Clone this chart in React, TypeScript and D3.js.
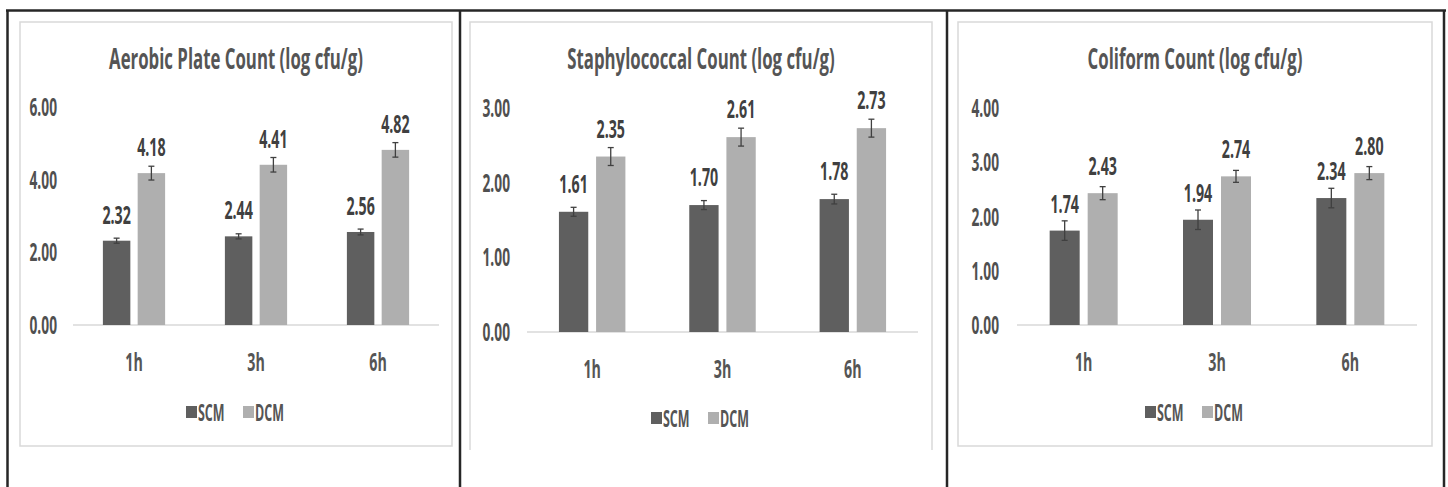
import React from "react";
import * as d3 from "d3";

const categories = ["1h", "3h", "6h"];
const seriesNames = ["SCM", "DCM"];

const titles = [
  "Aerobic Plate Count (log cfu/g)",
  "Staphylococcal Count (log cfu/g)",
  "Coliform Count (log cfu/g)",
];

const apcSCM = [2.32, 2.44, 2.56];
const apcDCM = [4.18, 4.41, 4.82];
const apcErrSCM = [0.07, 0.07, 0.08];
const apcErrDCM = [0.19, 0.2, 0.2];
const apcTicks = [0, 2, 4, 6];

const staSCM = [1.61, 1.7, 1.78];
const staDCM = [2.35, 2.61, 2.73];
const staErrSCM = [0.06, 0.06, 0.065];
const staErrDCM = [0.12, 0.12, 0.12];
const staTicks = [0, 1, 2, 3];

const colSCM = [1.74, 1.94, 2.34];
const colDCM = [2.43, 2.74, 2.8];
const colErrSCM = [0.18, 0.18, 0.18];
const colErrDCM = [0.12, 0.11, 0.12];
const colTicks = [0, 1, 2, 3, 4];

const COLORS = ["#5f5f5f", "#afafaf"];
const FONT = "'Open Sans', 'Liberation Sans', sans-serif";

type PanelCfg = {
  title: string;
  scm: number[];
  dcm: number[];
  errScm: number[];
  errDcm: number[];
  ticks: number[];
  box: [number, number, number, number];
  boxBottom: boolean;
  xr: [number, number];
  y0: number;
  yTop: number;
  labelRight: number;
  legendDy: number;
  labelOff: number;
};

const panels: PanelCfg[] = [
  {
    title: titles[0], scm: apcSCM, dcm: apcDCM, errScm: apcErrSCM, errDcm: apcErrDCM, ticks: apcTicks,
    box: [20, 22, 452, 446], boxBottom: true, xr: [73, 439], y0: 325, yTop: 107, labelRight: 57, legendDy: 87, labelOff: 17,
  },
  {
    title: titles[1], scm: staSCM, dcm: staDCM, errScm: staErrSCM, errDcm: staErrDCM, ticks: staTicks,
    box: [470, 22, 932, 450], boxBottom: false, xr: [527, 918], y0: 332, yTop: 108, labelRight: 510, legendDy: 86, labelOff: 19,
  },
  {
    title: titles[2], scm: colSCM, dcm: colDCM, errScm: colErrSCM, errDcm: colErrDCM, ticks: colTicks,
    box: [958, 22, 1432, 446], boxBottom: true, xr: [1017, 1417], y0: 325, yTop: 108, labelRight: 999, legendDy: 87, labelOff: 18,
  },
];

function T(props: {
  x: number; y: number; children: React.ReactNode; size: number; weight?: number;
  fill?: string; anchor?: string; sx: number; dy?: string;
}) {
  const { x, y, children, size, weight = 600, fill = "#595959", anchor = "start", sx, dy } = props;
  return (
    <text
      transform={`translate(${x},${y}) scale(${sx},1)`}
      fontFamily={FONT}
      fontSize={size}
      fontWeight={weight}
      fill={fill}
      textAnchor={anchor}
      dy={dy}
    >
      {children}
    </text>
  );
}

function Panel({ cfg }: { cfg: PanelCfg }) {
  const [bx0, by0, bx1, by1] = cfg.box;
  const x = d3.scaleBand<string>().domain(categories).range(cfg.xr).padding(0);
  const ymax = cfg.ticks[cfg.ticks.length - 1];
  const y = d3.scaleLinear().domain([0, ymax]).range([cfg.y0, cfg.yTop]);
  const bw = x.bandwidth();
  const barW = bw * 0.225;
  const gap = bw * 0.06;
  const cx = (bx0 + bx1) / 2;
  const series = [
    { vals: cfg.scm, errs: cfg.errScm },
    { vals: cfg.dcm, errs: cfg.errDcm },
  ];
  const fmt = d3.format(".2f");
  const legY = cfg.y0 + cfg.legendDy;
  return (
    <g>
      <path
        d={
          cfg.boxBottom
            ? `M${bx0},${by0}H${bx1}V${by1}H${bx0}Z`
            : `M${bx0},${by1}V${by0}H${bx1}V${by1}`
        }
        fill="none"
        stroke="#d9d9d9"
        strokeWidth={1.5}
      />
      <T x={cx} y={69} size={28} weight={700} anchor="middle" sx={0.6} fill="#555555">
        {cfg.title}
      </T>
      {cfg.ticks.map((t) => (
        <T key={t} x={cfg.labelRight} y={y(t)} size={25} weight={700} anchor="end" dy="0.36em" sx={0.55} fill="#505050">
          {fmt(t)}
        </T>
      ))}
      <line x1={cfg.xr[0]} x2={cfg.xr[1]} y1={cfg.y0} y2={cfg.y0} stroke="#d9d9d9" strokeWidth={1.5} />
      {categories.map((c, i) => {
        const center = (x(c) as number) + bw / 2;
        return (
          <g key={c}>
            {series.map((s, si) => {
              const bx = si === 0 ? center - gap / 2 - barW : center + gap / 2;
              const v = s.vals[i];
              const e = s.errs[i];
              const mid = bx + barW / 2;
              return (
                <g key={si}>
                  <rect x={bx} y={y(v)} width={barW} height={cfg.y0 - y(v)} fill={COLORS[si]} />
                  <g stroke="#404040" strokeWidth={1.3}>
                    <line x1={mid} x2={mid} y1={y(v + e)} y2={y(v - e)} />
                    <line x1={mid - 3} x2={mid + 3} y1={y(v + e)} y2={y(v + e)} />
                    <line x1={mid - 3} x2={mid + 3} y1={y(v - e)} y2={y(v - e)} />
                  </g>
                  <T x={mid} y={y(v) - cfg.labelOff} size={25} weight={700} fill="#404040" anchor="middle" sx={0.57}>
                    {fmt(v)}
                  </T>
                </g>
              );
            })}
            <T x={center} y={cfg.y0 + 46} size={25} weight={700} anchor="middle" sx={0.57} fill="#555555">
              {c}
            </T>
          </g>
        );
      })}
      {seriesNames.map((n, si) => {
        const sqx = si === 0 ? cx - 50 : cx + 7;
        return (
          <g key={n}>
            <rect x={sqx} y={legY - 6} width={11} height={12} fill={COLORS[si]} />
            <T x={sqx + 12} y={legY} size={24} weight={700} anchor="start" dy="0.36em" sx={0.52} fill="#555555">
              {n}
            </T>
          </g>
        );
      })}
    </g>
  );
}

export default function App() {
  const W = 1448;
  const H = 487;
  return (
    <svg
      width={W}
      height={H}
      style={{ position: "absolute", left: 0, top: 0, background: "#ffffff" }}
    >
      <rect x={0} y={0} width={W} height={H} fill="#ffffff" />
      {panels.map((p, i) => (
        <Panel key={i} cfg={p} />
      ))}
      <g stroke="#262626" strokeWidth={2.5}>
        <line x1={6} x2={1446} y1={10.5} y2={10.5} />
        <line x1={7.5} x2={7.5} y1={10} y2={H} />
        <line x1={460} x2={460} y1={10} y2={H} />
        <line x1={947} x2={947} y1={10} y2={H} />
        <line x1={1444} x2={1444} y1={10} y2={H} />
      </g>
    </svg>
  );
}
